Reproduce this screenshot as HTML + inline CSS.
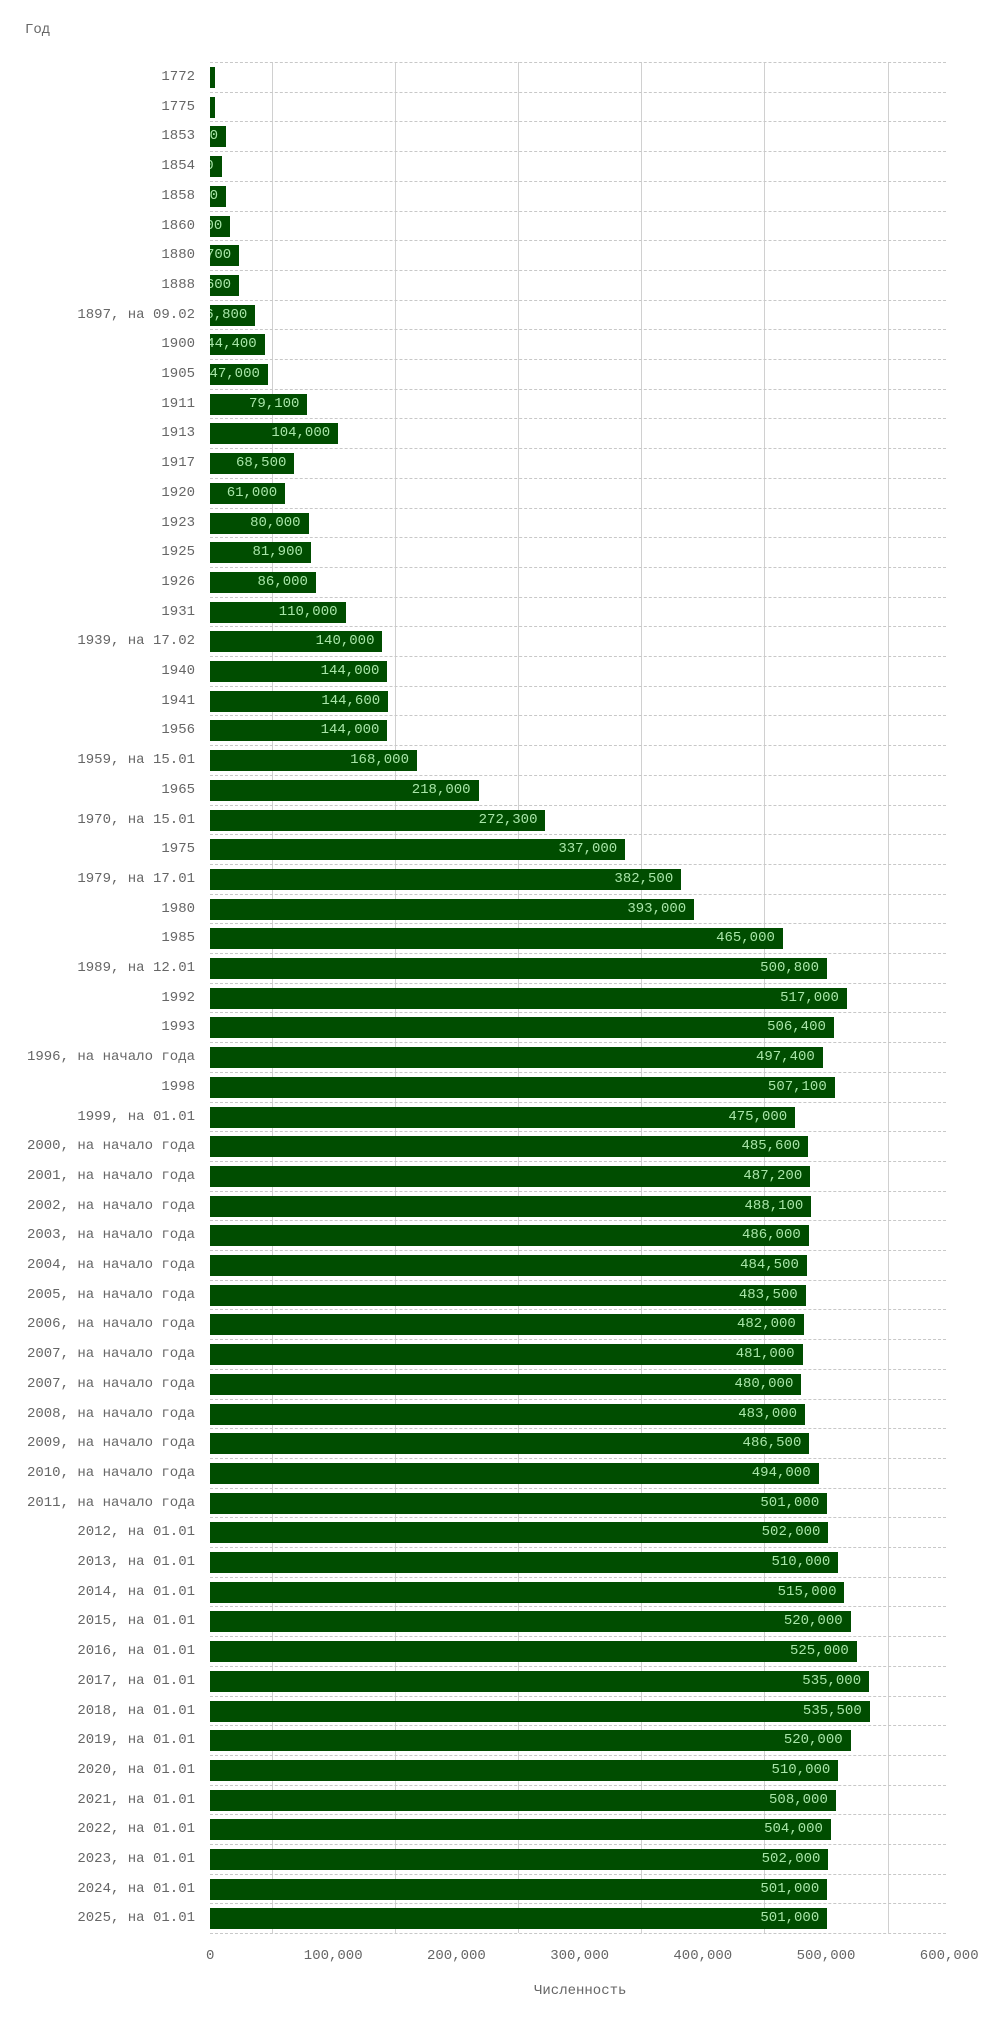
<!DOCTYPE html>
<html><head><meta charset="utf-8">
<style>
body{margin:0;width:1000px;height:2031px;background:#fff;position:relative;overflow:hidden;font-family:"Liberation Mono","DejaVu Sans Mono",monospace;}
.a{position:absolute}
.lab{position:absolute;right:805px;font-size:14px;color:#666;white-space:nowrap;line-height:30px}
.bar{position:absolute;left:210px;height:21px;background:#004d00;overflow:hidden}
.bar span{position:absolute;right:8px;top:0;line-height:21px;font-size:14px;color:#a8e6a8;white-space:nowrap}
.h{position:absolute;left:210px;width:736px;height:0;border-top:1px dashed #c8c8c8}
.v{position:absolute;top:62px;height:1871px;width:0;border-left:1px solid #d0d0d0}
.t{position:absolute;top:1948px;font-size:14px;color:#666;white-space:nowrap}
</style></head><body>
<div class="a" style="left:25px;top:22px;font-size:14px;color:#666">Год</div>
<div class="a" style="left:534px;top:1983px;font-size:14px;color:#666">Численность</div>
<div id="c"></div>
<script>
var d=[["1772",4000],["1775",4000],["1853",13000],["1854",9500],["1858",13000],["1860",16500],["1880",23700],["1888",23600],["1897, на 09.02",36800],["1900",44400],["1905",47000],["1911",79100],["1913",104000],["1917",68500],["1920",61000],["1923",80000],["1925",81900],["1926",86000],["1931",110000],["1939, на 17.02",140000],["1940",144000],["1941",144600],["1956",144000],["1959, на 15.01",168000],["1965",218000],["1970, на 15.01",272300],["1975",337000],["1979, на 17.01",382500],["1980",393000],["1985",465000],["1989, на 12.01",500800],["1992",517000],["1993",506400],["1996, на начало года",497400],["1998",507100],["1999, на 01.01",475000],["2000, на начало года",485600],["2001, на начало года",487200],["2002, на начало года",488100],["2003, на начало года",486000],["2004, на начало года",484500],["2005, на начало года",483500],["2006, на начало года",482000],["2007, на начало года",481000],["2007, на начало года",480000],["2008, на начало года",483000],["2009, на начало года",486500],["2010, на начало года",494000],["2011, на начало года",501000],["2012, на 01.01",502000],["2013, на 01.01",510000],["2014, на 01.01",515000],["2015, на 01.01",520000],["2016, на 01.01",525000],["2017, на 01.01",535000],["2018, на 01.01",535500],["2019, на 01.01",520000],["2020, на 01.01",510000],["2021, на 01.01",508000],["2022, на 01.01",504000],["2023, на 01.01",502000],["2024, на 01.01",501000],["2025, на 01.01",501000]];
var h="",s=0.001232,x0=210,top0=62,rh=29.7;
for(var k=0;k<6;k++)h+='<div class="v" style="left:'+(x0+(50000+k*100000)*s)+'px"></div>';
for(var i=0;i<=d.length;i++)h+='<div class="h" style="top:'+(top0+i*rh)+'px"></div>';
for(var i=0;i<d.length;i++){var y=top0+i*rh;
h+='<div class="lab" style="top:'+y+'px">'+d[i][0]+'</div>';
h+='<div class="bar" style="top:'+(y+5)+'px;width:'+(d[i][1]*s)+'px"><span>'+d[i][1].toLocaleString("en-US")+'</span></div>';}
for(var k=0;k<=6;k++){var x=x0+k*100000*s,t=(k*100000).toLocaleString("en-US");
h+='<div class="t" style="left:'+(k==0?x-4:x-t.length*4.2)+'px">'+t+'</div>';}
document.getElementById("c").innerHTML=h;
</script>
</body></html>
